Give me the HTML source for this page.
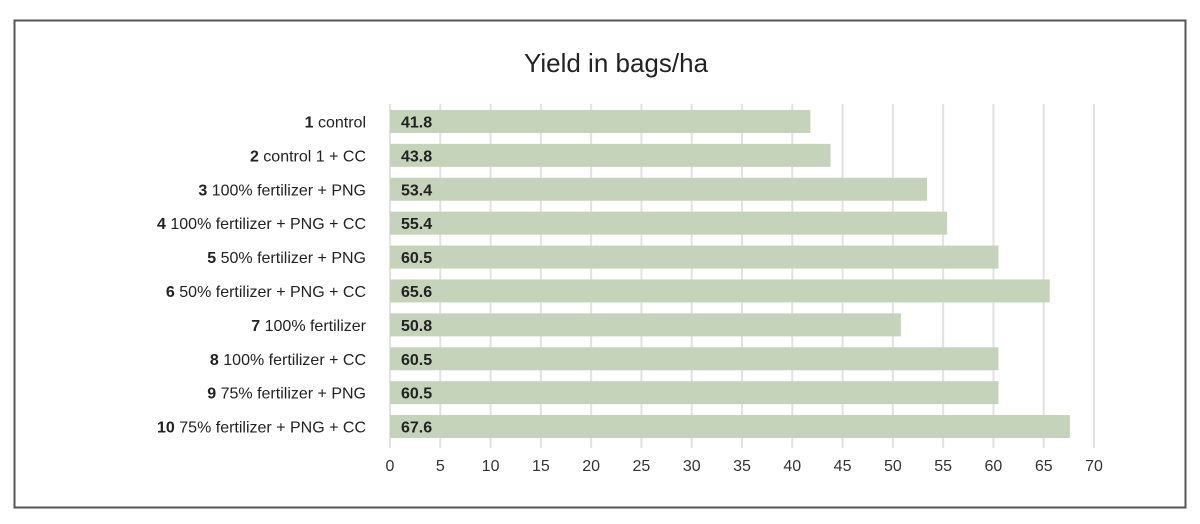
<!DOCTYPE html>
<html><head><meta charset="utf-8"><style>
html,body{margin:0;padding:0;background:#fff;}
svg{display:block;font-family:"Liberation Sans",Arial,sans-serif;}
</style></head><body>
<svg id="chart" width="1200" height="524" viewBox="0 0 1200 524">
<rect x="14.5" y="20.5" width="1171" height="487" fill="#fff" stroke="#555" stroke-width="2"/>
<text x="616" y="72" text-anchor="middle" font-size="26" fill="#222">Yield in bags/ha</text>
<g id="grid"></g><g id="bars"></g><g id="labels"></g><g id="ticks"></g>
</svg>
<script>
const nums = ["1","2","3","4","5","6","7","8","9","10"];
const categories = ["control","control 1 + CC","100% fertilizer + PNG","100% fertilizer + PNG + CC","50% fertilizer + PNG","50% fertilizer + PNG + CC","100% fertilizer","100% fertilizer + CC","75% fertilizer + PNG","75% fertilizer + PNG + CC"];
const values = [41.8,43.8,53.4,55.4,60.5,65.6,50.8,60.5,60.5,67.6];
const tickLabels = [0,5,10,15,20,25,30,35,40,45,50,55,60,65,70];

const NS="http://www.w3.org/2000/svg";
const x0=390, pxPer=(1094-390)/70;
const xs=v=>x0+v*pxPer;
const plotTop=104, pitch=33.9, barH=23;
const ys=i=>plotTop+i*pitch+(pitch-barH)/2+0.5;
function mk(tag,attrs,parent){const e=document.createElementNS(NS,tag);for(const k in attrs)e.setAttribute(k,attrs[k]);parent.appendChild(e);return e;}
const grid=document.getElementById('grid'),bars=document.getElementById('bars'),labels=document.getElementById('labels'),ticks=document.getElementById('ticks');
tickLabels.forEach(t=>{
  const l=mk('line',{x1:xs(t),x2:xs(t),y1:plotTop,y2:plotTop+pitch*categories.length+5,stroke:'#e2e2e2','stroke-width':2},grid);
  
  
  const tx=mk('text',{x:xs(t),y:471,'text-anchor':'middle','font-size':16,fill:'#333'},ticks);
  tx.textContent=t;
  
  
});
categories.forEach((c,i)=>{
  const y=ys(i);
  const r=mk('rect',{x:xs(0),y:y,width:xs(values[i])-xs(0),height:barH,fill:'#c5d3bb'},bars);
  
  
  const v=mk('text',{x:xs(0)+11,y:y+barH/2+6,'font-size':16,'font-weight':'bold',fill:'#222'},bars);
  v.textContent=values[i].toFixed(1);
  
  
  const t=mk('text',{x:366,y:y+barH/2+6,'text-anchor':'end','font-size':16,fill:'#222'},labels);
  
  
  const b=mk('tspan',{'font-weight':'bold'},t);b.textContent=nums[i];
  const s=mk('tspan',{},t);s.textContent=' '+c;
});
</script>
</body></html>
